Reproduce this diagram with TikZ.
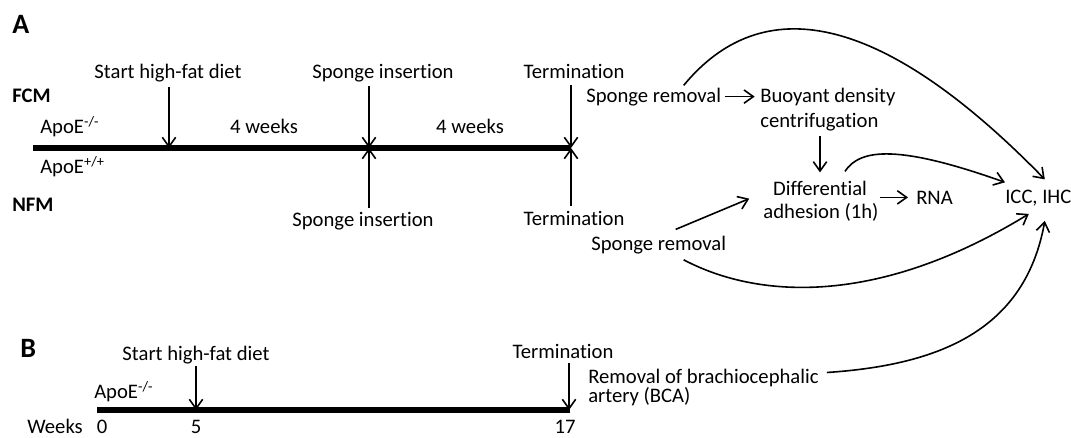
\documentclass[tikz,border=0pt]{standalone}
\usepackage{fontspec}
\setmainfont{Carlito}[Ligatures=CommonOff]
\usetikzlibrary{arrows.meta,calc}
\begin{document}
\begin{tikzpicture}[x=0.75pt,y=-0.75pt,
  txt/.style={inner sep=0pt, font=\fontsize{15.5}{18}\selectfont},
  grp/.style={inner sep=0pt, font=\fontsize{15.5}{18}\selectfont\bfseries},
  panel/.style={inner sep=0pt, font=\fontsize{21}{24}\selectfont\bfseries},
  conn/.style={line width=1.2pt, -{Straight Barb[length=7pt,width=10pt,line width=1.2pt]}},
  timeline/.style={line width=3.8pt}]
\useasboundingbox (0,0) rectangle (1071,437);

% ---------------- Panel A ----------------
\node[panel, anchor=base west] (A) at (12,33) {A};
\node[grp, anchor=base west] (fcm) at (12,102) {FCM};
\node[grp, anchor=base west] (nfm) at (12,211) {NFM};
\node[txt, anchor=base west] (apoK) at (40,133) {ApoE\textsuperscript{-/-}};
\node[txt, anchor=base west] (apoW) at (40,173) {ApoE\textsuperscript{+/+}};

\coordinate (a0) at (33,148);
\coordinate (a1) at (571,148);
\draw[timeline] (a0) -- (a1);
\coordinate (pHF) at (169,148);
\coordinate (pSI) at (369,148);
\coordinate (pTE) at (571,148);

\node[txt, anchor=base] (hfA) at (168,78) {Start high-fat diet};
\node[txt, anchor=base] (siT) at (383,78) {Sponge insertion};
\node[txt, anchor=base] (teT) at (574,78) {Termination};
\node[txt, anchor=base] (siB) at (363,226) {Sponge insertion};
\node[txt, anchor=base] (teB) at (574,225) {Termination};
\node[txt, anchor=base] (wk1) at (264,133) {4 weeks};
\node[txt, anchor=base] (wk2) at (470,133) {4 weeks};

\draw[conn] (pHF |- 0,87) -- (pHF);
\draw[conn] (pSI |- 0,86) -- (pSI);
\draw[conn] (pTE |- 0,85) -- (pTE);
\draw[conn] (pSI |- 0,208) -- (pSI);
\draw[conn] (pTE |- 0,206) -- (pTE);

\node[txt, anchor=base west] (sr1) at (586,102) {Sponge removal};
\node[txt, anchor=base west] (bd) at (760,102) {Buoyant density};
\node[txt, anchor=base west] (cf) at (760,127) {centrifugation};
\node[txt, anchor=base] (df) at (820,195) {Differential};
\node[txt, anchor=base] (ad) at (821,218) {adhesion (1h)};
\node[txt, anchor=base west] (rna) at (916,204) {RNA};
\node[txt, anchor=base west] (icc) at (1005,203) {ICC, IHC};
\node[txt, anchor=base west] (sr2) at (591,250) {Sponge removal};

\draw[conn, shorten <=3pt, shorten >=4pt] (sr1.east) -- (bd.west |- sr1.east);
\draw[conn, shorten <=4pt, shorten >=6pt] (cf.south -| 820,0) -- (df.north -| 820,0);
\draw[conn, shorten <=1pt, shorten >=6pt] (ad.north east |- rna.west) -- (rna.west);
\draw[conn] ($(sr2.north)+(17,-6)$) -- ($(ad.north west)+(-14,-4)$);

% curves to ICC, IHC
\draw[conn] ($(sr1.north)+(30,-2)$) .. controls (750,5) and (860,-10) .. ($(icc.north)+(6.5,-10)$);
\draw[conn] ($(df.north)+(25,-9)$) .. controls (860,148) and (900,145) .. ($(icc.north west)+(0,-7)$);
\draw[conn] ($(sr2.south)+(25,6)$) .. controls (760,300) and (880,305) .. ($(icc.south)+(-9.5,8)$);

% ---------------- Panel B ----------------
\node[panel, anchor=base west] (B) at (20,357) {B};
\coordinate (b0) at (97,410);
\coordinate (b1) at (570,410);
\draw[timeline] (b0) -- (b1);
\coordinate (pB5) at (196,410);
\coordinate (pB17) at (569,410);

\node[txt, anchor=base] (hfB) at (196,360) {Start high-fat diet};
\node[txt, anchor=base] (teBB) at (563,358) {Termination};
\node[txt, anchor=base west] (apoB) at (94,398) {ApoE\textsuperscript{-/-}};
\node[txt, anchor=base west] (wk) at (27,433) {Weeks};
\node[txt, anchor=base] (n0) at (102,433) {0};
\node[txt, anchor=base] (n5) at (196,433) {5};
\node[txt, anchor=base] (n17) at (565,433) {17};
\node[txt, anchor=base west] (rm) at (588,383) {Removal of brachiocephalic};
\node[txt, anchor=base west] (ar) at (588,402) {artery (BCA)};

\draw[conn] (pB5 |- 0,366) -- (pB5);
\draw[conn] (pB17 |- 0,363) -- (pB17);

\draw[conn] ($(rm.east)+(8,-5)$) .. controls (940,365) and (1025,330) .. ($(icc.south)+(6.5,15)$);
\end{tikzpicture}
\end{document}
